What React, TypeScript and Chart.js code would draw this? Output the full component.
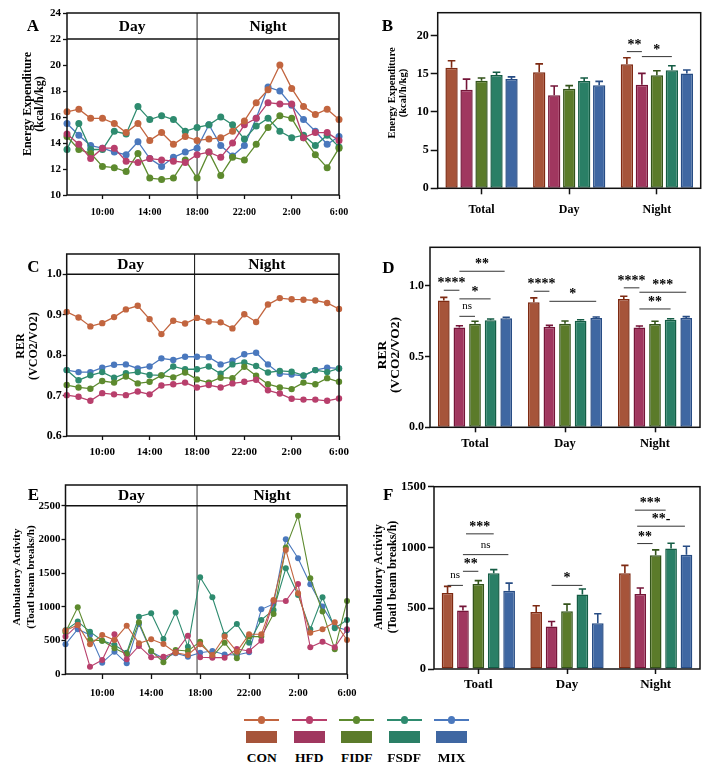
import React, { useEffect, useRef } from "react";
import { Chart, registerables } from "chart.js";

Chart.register(...registerables);

const SERIF = '"Liberation Serif", "Times New Roman", serif';

const GROUPS = ["CON", "HFD", "FIDF", "FSDF", "MIX"];
const LINE_COLORS = ["#C2653F", "#B83F6C", "#5D8A2E", "#2E8B6F", "#4A78BD"];
const BAR_FILL = ["#A6543A", "#A0375F", "#5B7B2A", "#2A7F66", "#3F67A2"];
const BAR_EDGE = ["#7E2A12", "#741538", "#33531A", "#145C44", "#274C84"];

const HOURS = [7, 8, 9, 10, 11, 12, 13, 14, 15, 16, 17, 18, 19, 20, 21, 22, 23, 24, 25, 26, 27, 28, 29, 30];
const HOUR_TICKS = [10, 14, 18, 22, 26, 30];
const PERIODS = ["Total", "Day", "Night"];
const PERIODS_F = ["Toatl", "Day", "Night"];

// Panel A: energy expenditure (kcal/h/kg)
const EE_CON = [16.4, 16.6, 15.9, 15.9, 15.5, 14.8, 15.5, 14.2, 14.8, 13.9, 14.5, 14.2, 14.3, 14.4, 14.9, 15.7, 17.1, 18.1, 20.0, 18.2, 16.8, 16.2, 16.6, 15.8];
const EE_HFD = [14.7, 13.9, 12.8, 13.6, 13.6, 12.6, 12.5, 12.8, 12.7, 12.6, 12.5, 13.1, 13.3, 12.9, 14.0, 15.4, 15.9, 17.1, 17.0, 17.0, 14.4, 14.8, 14.8, 14.2];
const EE_FIDF = [14.5, 13.5, 13.2, 12.2, 12.1, 11.8, 13.2, 11.3, 11.2, 11.3, 12.7, 11.3, 13.3, 11.5, 12.9, 12.7, 13.9, 15.2, 16.1, 15.9, 14.4, 13.1, 12.1, 13.6];
const EE_FSDF = [13.5, 15.5, 13.5, 13.5, 14.9, 14.7, 16.8, 15.8, 16.1, 15.8, 14.9, 15.2, 15.4, 16.0, 15.4, 14.3, 15.3, 15.9, 14.9, 14.4, 14.6, 13.8, 14.6, 13.7];
const EE_MIX = [15.5, 14.6, 13.8, 13.6, 13.3, 13.1, 14.1, 12.8, 12.2, 12.9, 13.3, 13.6, 15.4, 13.8, 13.0, 13.8, 15.9, 18.3, 18.0, 16.9, 15.8, 14.9, 13.9, 14.5];
const EE_TICKS = [10, 12, 14, 16, 18, 20, 22, 24];

// Panel C: RER
const RER_CON = [0.907, 0.893, 0.871, 0.879, 0.894, 0.913, 0.922, 0.889, 0.852, 0.885, 0.878, 0.892, 0.883, 0.881, 0.866, 0.901, 0.882, 0.925, 0.941, 0.938, 0.937, 0.935, 0.929, 0.914];
const RER_HFD = [0.701, 0.697, 0.687, 0.706, 0.703, 0.701, 0.71, 0.703, 0.725, 0.728, 0.732, 0.72, 0.726, 0.72, 0.73, 0.734, 0.739, 0.713, 0.705, 0.692, 0.69, 0.69, 0.687, 0.693];
const RER_FIDF = [0.726, 0.72, 0.717, 0.736, 0.732, 0.747, 0.73, 0.734, 0.75, 0.745, 0.757, 0.74, 0.732, 0.744, 0.743, 0.771, 0.749, 0.728, 0.72, 0.716, 0.732, 0.728, 0.743, 0.734];
const RER_FSDF = [0.763, 0.738, 0.75, 0.758, 0.744, 0.755, 0.758, 0.751, 0.75, 0.772, 0.765, 0.765, 0.772, 0.754, 0.777, 0.782, 0.773, 0.757, 0.761, 0.759, 0.75, 0.763, 0.758, 0.767];
const RER_MIX = [0.763, 0.758, 0.758, 0.769, 0.776, 0.777, 0.767, 0.772, 0.792, 0.788, 0.796, 0.796, 0.795, 0.777, 0.786, 0.802, 0.806, 0.777, 0.754, 0.752, 0.749, 0.763, 0.769, 0.767];
const RER_TICKS = [0.6, 0.7, 0.8, 0.9, 1.0];

// Panel E: ambulatory activity
const AMB_CON = [645, 729, 441, 580, 506, 719, 456, 516, 446, 317, 283, 441, 283, 556, 332, 590, 590, 1101, 1845, 1200, 615, 665, 769, 506];
const AMB_HFD = [556, 729, 109, 208, 590, 218, 417, 248, 258, 322, 570, 248, 243, 243, 372, 342, 496, 1086, 1086, 1339, 397, 481, 397, 665];
const AMB_FIDF = [620, 992, 506, 496, 382, 293, 769, 342, 174, 357, 342, 481, 258, 466, 233, 556, 556, 893, 1880, 2351, 1424, 928, 367, 1086];
const AMB_FSDF = [650, 779, 630, 496, 431, 317, 853, 903, 521, 913, 407, 1438, 1141, 580, 744, 466, 804, 952, 1572, 1176, 665, 1141, 680, 804];
const AMB_MIX = [441, 665, 580, 169, 332, 159, 744, 332, 233, 308, 258, 317, 342, 290, 283, 322, 962, 1042, 2004, 1721, 1334, 1002, 704, 650];
const AMB_TICKS = [0, 500, 1000, 1500, 2000, 2500];

// Panel B: mean energy expenditure per period (rows: CON, HFD, FIDF, FSDF, MIX)
const EE_MEAN = [
  [15.8, 15.2, 16.25],
  [12.9, 12.2, 13.55],
  [14.1, 13.05, 14.8],
  [14.85, 14.05, 15.45],
  [14.3, 13.5, 15.05],
];
const EE_SEM = [
  [0.9, 1.1, 0.85],
  [1.4, 1.2, 1.5],
  [0.35, 0.4, 0.6],
  [0.35, 0.4, 0.6],
  [0.3, 0.5, 0.45],
];
const EE_BAR_TICKS = [0, 5, 10, 15, 20];
const EE_SIG = [
  { g: 2, a: 0, b: 1, y: 17.9, t: "**" },
  { g: 2, a: 1, b: 3, y: 17.25, t: "*" },
];

// Panel D: mean RER per period
const RER_MEAN = [
  [0.894, 0.882, 0.906],
  [0.705, 0.708, 0.705],
  [0.731, 0.731, 0.729],
  [0.755, 0.752, 0.759],
  [0.769, 0.771, 0.771],
];
const RER_SEM = [
  [0.023, 0.031, 0.019],
  [0.012, 0.011, 0.01],
  [0.017, 0.019, 0.019],
  [0.009, 0.007, 0.007],
  [0.007, 0.007, 0.01],
];
const RER_BAR_TICKS = [0, 0.5, 1.0];
const RER_SIG = [
  { g: 0, a: 0, b: 1, y: 0.967, t: "****" },
  { g: 0, a: 1, b: 3.9, y: 1.101, t: "**" },
  { g: 0, a: 1, b: 3, y: 0.906, t: "*" },
  { g: 0, a: 1, b: 2, y: 0.783, t: "ns" },
  { g: 1, a: 0, b: 1, y: 0.96, t: "****" },
  { g: 1, a: 1, b: 4, y: 0.889, t: "*" },
  { g: 2, a: 0, b: 1, y: 0.984, t: "****" },
  { g: 2, a: 1, b: 4, y: 0.953, t: "***" },
  { g: 2, a: 1, b: 3, y: 0.835, t: "**" },
];

// Panel F: mean ambulatory activity per period
const AMB_MEAN = [
  [625, 468, 787],
  [482, 350, 617],
  [699, 476, 936],
  [787, 614, 991],
  [644, 377, 941],
];
const AMB_SEM = [
  [55, 52, 66],
  [33, 41, 49],
  [28, 58, 44],
  [31, 44, 44],
  [63, 77, 69],
];
const AMB_BAR_TICKS = [0, 500, 1000, 1500];
const AMB_SIG = [
  { g: 0, a: 0, b: 1, y: 688, t: "ns" },
  { g: 0, a: 1, b: 2, y: 804, t: "**" },
  { g: 0, a: 1, b: 3.95, y: 941, t: "ns" },
  { g: 0, a: 1.2, b: 3, y: 1112, t: "***" },
  { g: 1, a: 1, b: 3, y: 688, t: "*" },
  { g: 2, a: 0.8, b: 1.8, y: 1032, t: "**" },
  { g: 2, a: 0.8, b: 3.9, y: 1175, t: "**-" },
  { g: 2, a: 0.65, b: 2.65, y: 1307, t: "***" },
];

const framePlugin = {
  id: "frame",
  afterDatasetsDraw(chart: any) {
    const { ctx, chartArea: a } = chart;
    ctx.save();
    ctx.strokeStyle = "#111";
    ctx.lineWidth = 1.5;
    ctx.strokeRect(a.left, a.top, a.right - a.left, a.bottom - a.top);
    ctx.restore();
  },
};

function dayNightPlugin(split: number, header: number, dividerColor: string, dividerWidth: number) {
  return {
    id: "dayNight",
    beforeDatasetsDraw(chart: any) {
      const { ctx, chartArea: a, scales } = chart;
      const sx = scales.x.getPixelForValue(split);
      ctx.save();
      ctx.strokeStyle = dividerColor;
      ctx.lineWidth = dividerWidth;
      ctx.beginPath();
      ctx.moveTo(sx, a.top);
      ctx.lineTo(sx, a.bottom);
      ctx.stroke();
      ctx.restore();
    },
    afterDatasetsDraw(chart: any) {
      const { ctx, chartArea: a, scales } = chart;
      const sx = scales.x.getPixelForValue(split);
      const hy = scales.y.getPixelForValue(header);
      ctx.save();
      ctx.strokeStyle = "#111";
      ctx.lineWidth = 1.5;
      ctx.beginPath();
      ctx.moveTo(a.left, hy);
      ctx.lineTo(a.right, hy);
      ctx.stroke();
      ctx.fillStyle = "#000";
      ctx.font = `bold 15.5px ${SERIF}`;
      ctx.textAlign = "center";
      ctx.textBaseline = "middle";
      const cy = (a.top + hy) / 2 + 1;
      ctx.fillText("Day", (a.left + sx) / 2, cy);
      ctx.fillText("Night", (sx + a.right) / 2, cy);
      ctx.restore();
    },
  };
}

function errorPlugin(sems: number[][]) {
  return {
    id: "errorBars",
    afterDatasetsDraw(chart: any) {
      const { ctx, scales } = chart;
      ctx.save();
      chart.data.datasets.forEach((ds: any, i: number) => {
        const meta = chart.getDatasetMeta(i);
        meta.data.forEach((el: any, j: number) => {
          const top = scales.y.getPixelForValue(ds.data[j] + sems[i][j]);
          const w = el.width * 0.62;
          ctx.strokeStyle = BAR_EDGE[i];
          ctx.lineWidth = 1.6;
          ctx.beginPath();
          ctx.moveTo(el.x, el.y);
          ctx.lineTo(el.x, top);
          ctx.moveTo(el.x - w / 2, top);
          ctx.lineTo(el.x + w / 2, top);
          ctx.stroke();
        });
      });
      ctx.restore();
    },
  };
}

function sigPlugin(sigs: { g: number; a: number; b: number; y: number; t: string }[]) {
  return {
    id: "sig",
    afterDatasetsDraw(chart: any) {
      const { ctx, scales } = chart;
      const n = chart.data.datasets.length;
      const barX = (g: number, idx: number) => {
        const i0 = Math.floor(idx);
        const i1 = Math.min(i0 + 1, n - 1);
        const f = idx - i0;
        const x0 = chart.getDatasetMeta(i0).data[g].x;
        const x1 = chart.getDatasetMeta(i1).data[g].x;
        return x0 + (x1 - x0) * f;
      };
      ctx.save();
      sigs.forEach((s) => {
        const x1 = barX(s.g, s.a);
        const x2 = barX(s.g, s.b);
        const py = scales.y.getPixelForValue(s.y);
        ctx.strokeStyle = "#333";
        ctx.lineWidth = 1;
        ctx.beginPath();
        ctx.moveTo(x1, py);
        ctx.lineTo(x2, py);
        ctx.stroke();
        const ns = s.t === "ns";
        ctx.font = ns ? `11px ${SERIF}` : `bold 14px ${SERIF}`;
        ctx.fillStyle = "#000";
        ctx.textAlign = "center";
        ctx.textBaseline = "alphabetic";
        ctx.fillText(s.t, (x1 + x2) / 2, py - (ns ? 7 : 3));
      });
      ctx.restore();
    },
  };
}

type Area = { L: number; T: number; R: number; B: number };

function tickFont(size: number) {
  return { family: SERIF, size, weight: "bold" as const };
}

function lineConfig(o: {
  W: number; H: number; area: Area; series: number[][]; yMin: number; yMax: number; yTicks: number[];
  yFmt: (v: number) => string; header: number; split: number; pointR: number; lineW: number;
  yFont: number; xFont: number; xPad: number; xTickLen: number; yTickLen: number; yPad: number;
  dividerColor: string; dividerWidth: number;
}) {
  return {
    type: "line",
    data: {
      datasets: o.series.map((vals, i) => ({
        label: GROUPS[i],
        data: HOURS.map((h, k) => ({ x: h, y: vals[k] })),
        borderColor: LINE_COLORS[i],
        backgroundColor: LINE_COLORS[i],
        pointBackgroundColor: LINE_COLORS[i],
        pointBorderColor: LINE_COLORS[i],
        pointBorderWidth: 0,
        pointRadius: o.pointR,
        borderWidth: o.lineW,
        tension: 0,
        clip: false,
      })),
    },
    options: {
      responsive: false,
      animation: false,
      events: [],
      layout: { padding: { left: 0, top: o.area.T, right: o.W - o.area.R, bottom: 0 } },
      plugins: { legend: { display: false }, tooltip: { enabled: false }, title: { display: false } },
      scales: {
        x: {
          type: "linear",
          min: HOURS[0],
          max: HOURS[HOURS.length - 1],
          afterBuildTicks: (ax: any) => {
            ax.ticks = HOUR_TICKS.map((v) => ({ value: v }));
          },
          afterFit: (ax: any) => {
            ax.height = o.H - o.area.B;
          },
          ticks: {
            autoSkip: false,
            maxRotation: 0,
            padding: o.xPad,
            color: "#000",
            font: tickFont(o.xFont),
            callback: (v: number) => `${v % 24}:00`,
          },
          grid: { drawOnChartArea: false, drawTicks: true, tickLength: o.xTickLen, tickColor: "#111", tickWidth: 1.3 },
          border: { display: false },
        },
        y: {
          type: "linear",
          min: o.yMin,
          max: o.yMax,
          afterBuildTicks: (ax: any) => {
            ax.ticks = o.yTicks.map((v) => ({ value: v }));
          },
          afterFit: (ax: any) => {
            ax.width = o.area.L;
          },
          ticks: { padding: o.yPad, color: "#000", font: tickFont(o.yFont), callback: (v: number) => o.yFmt(v) },
          grid: { drawOnChartArea: false, drawTicks: true, tickLength: o.yTickLen, tickColor: "#111", tickWidth: 1.3 },
          border: { display: false },
        },
      },
    },
    plugins: [dayNightPlugin(o.split, o.header, o.dividerColor, o.dividerWidth), framePlugin],
  };
}

function barConfig(o: {
  W: number; H: number; area: Area; labels: string[]; means: number[][]; sems: number[][];
  sigs: { g: number; a: number; b: number; y: number; t: string }[]; yMax: number; yTicks: number[];
  yFmt: (v: number) => string; catPct: number; barPct: number; yFont: number; xFont: number;
  xPad: number; xTickLen: number; yTickLen: number; yPad: number;
}) {
  return {
    type: "bar",
    data: {
      labels: o.labels,
      datasets: o.means.map((m, i) => ({
        label: GROUPS[i],
        data: m,
        backgroundColor: BAR_FILL[i],
        borderColor: BAR_EDGE[i],
        borderWidth: 1.5,
        borderSkipped: false,
        categoryPercentage: o.catPct,
        barPercentage: o.barPct,
      })),
    },
    options: {
      responsive: false,
      animation: false,
      events: [],
      layout: { padding: { left: 0, top: o.area.T, right: o.W - o.area.R, bottom: 0 } },
      plugins: { legend: { display: false }, tooltip: { enabled: false }, title: { display: false } },
      scales: {
        x: {
          afterFit: (ax: any) => {
            ax.height = o.H - o.area.B;
          },
          ticks: { padding: o.xPad, color: "#000", font: tickFont(o.xFont), maxRotation: 0 },
          grid: { offset: false, drawOnChartArea: false, drawTicks: true, tickLength: o.xTickLen, tickColor: "#111", tickWidth: 1.5 },
          border: { display: false },
        },
        y: {
          type: "linear",
          min: 0,
          max: o.yMax,
          afterBuildTicks: (ax: any) => {
            ax.ticks = o.yTicks.map((v) => ({ value: v }));
          },
          afterFit: (ax: any) => {
            ax.width = o.area.L;
          },
          ticks: { padding: o.yPad, color: "#000", font: tickFont(o.yFont), callback: (v: number) => o.yFmt(v) },
          grid: { drawOnChartArea: false, drawTicks: true, tickLength: o.yTickLen, tickColor: "#111", tickWidth: 1.5 },
          border: { display: false },
        },
      },
    },
    plugins: [framePlugin, errorPlugin(o.sems), sigPlugin(o.sigs)],
  };
}

function ChartCanvas({ left, top, width, height, config }: any) {
  const ref = useRef<HTMLCanvasElement>(null);
  useEffect(() => {
    const chart = new Chart(ref.current as HTMLCanvasElement, config);
    return () => chart.destroy();
  }, []);
  return (
    <canvas
      ref={ref}
      width={width}
      height={height}
      style={{ position: "absolute", left, top, width, height }}
    />
  );
}

function VText({ x, y, size, text }: { x: number; y: number; size: number; text: string }) {
  return (
    <div
      style={{
        position: "absolute",
        left: x,
        top: y,
        transform: "translate(-50%, -50%) rotate(-90deg)",
        font: `bold ${size}px ${SERIF}`,
        lineHeight: 1,
        whiteSpace: "nowrap",
        color: "#000",
      }}
    >
      {text}
    </div>
  );
}

function Label({ x, y, size, text }: { x: number; y: number; size: number; text: string }) {
  return (
    <div
      style={{
        position: "absolute",
        left: x,
        top: y,
        transform: "translate(-50%, -50%)",
        font: `bold ${size}px ${SERIF}`,
        lineHeight: 1,
        whiteSpace: "nowrap",
        color: "#000",
      }}
    >
      {text}
    </div>
  );
}

function Legend() {
  return (
    <>
      {GROUPS.map((g, i) => {
        const cx = 261.7 + i * 47.5;
        return (
          <React.Fragment key={g}>
            <div style={{ position: "absolute", left: cx - 17.5, top: 719.3, width: 35, height: 1.6, background: LINE_COLORS[i] }} />
            <div style={{ position: "absolute", left: cx - 3.7, top: 716.4, width: 7.4, height: 7.4, borderRadius: "50%", background: LINE_COLORS[i] }} />
            <div style={{ position: "absolute", left: cx - 15.3, top: 730.7, width: 30.7, height: 12.7, background: BAR_FILL[i] }} />
            <Label x={cx} y={758.3} size={13.5} text={g} />
          </React.Fragment>
        );
      })}
    </>
  );
}

const fmtInt = (v: number) => String(v);
const fmt1 = (v: number) => v.toFixed(1);

export default function App() {
  const cfgA = lineConfig({
    W: 360, H: 228, area: { L: 67, T: 13, R: 339, B: 195 },
    series: [EE_CON, EE_HFD, EE_FIDF, EE_FSDF, EE_MIX],
    yMin: 10, yMax: 24, yTicks: EE_TICKS, yFmt: fmtInt, header: 22, split: 18,
    pointR: 3.5, lineW: 1.3, yFont: 11, xFont: 10, xPad: 7, xTickLen: 4, yTickLen: 4, yPad: 2,
    dividerColor: "#333", dividerWidth: 1.1,
  });
  const cfgB = barConfig({
    W: 355, H: 228, area: { L: 77.7, T: 12.7, R: 340.7, B: 188.3 },
    labels: PERIODS, means: EE_MEAN, sems: EE_SEM, sigs: EE_SIG, yMax: 23, yTicks: EE_BAR_TICKS, yFmt: fmtInt,
    catPct: 0.855, barPct: 0.82, yFont: 12, xFont: 12, xPad: 8, xTickLen: 6, yTickLen: 7, yPad: 2,
  });
  const cfgC = lineConfig({
    W: 360, H: 228, area: { L: 66.7, T: 18, R: 339, B: 200 },
    series: [RER_CON, RER_HFD, RER_FIDF, RER_FSDF, RER_MIX],
    yMin: 0.6, yMax: 1.05, yTicks: RER_TICKS, yFmt: fmt1, header: 1.0, split: 17.8,
    pointR: 3.2, lineW: 1.3, yFont: 12, xFont: 11, xPad: 6, xTickLen: 4, yTickLen: 4, yPad: 1,
    dividerColor: "#222", dividerWidth: 1.1,
  });
  const cfgD = barConfig({
    W: 355, H: 228, area: { L: 70, T: 11.3, R: 340, B: 191.3 },
    labels: PERIODS, means: RER_MEAN, sems: RER_SEM, sigs: RER_SIG, yMax: 1.27, yTicks: RER_BAR_TICKS, yFmt: fmt1,
    catPct: 0.867, barPct: 0.75, yFont: 12, xFont: 12.5, xPad: 4, xTickLen: 5, yTickLen: 5, yPad: 1,
  });
  const cfgE = lineConfig({
    W: 370, H: 240, area: { L: 65.5, T: 19, R: 347, B: 208 },
    series: [AMB_CON, AMB_HFD, AMB_FIDF, AMB_FSDF, AMB_MIX],
    yMin: 0, yMax: 2810, yTicks: AMB_TICKS, yFmt: fmtInt, header: 2500, split: 17.75,
    pointR: 3, lineW: 1.1, yFont: 11, xFont: 10.5, xPad: 8, xTickLen: 5, yTickLen: 4, yPad: 1,
    dividerColor: "#777", dividerWidth: 1.5,
  });
  const cfgF = barConfig({
    W: 355, H: 240, area: { L: 74, T: 20.7, R: 340, B: 203 },
    labels: PERIODS_F, means: AMB_MEAN, sems: AMB_SEM, sigs: AMB_SIG, yMax: 1500, yTicks: AMB_BAR_TICKS, yFmt: fmtInt,
    catPct: 0.868, barPct: 0.76, yFont: 12.5, xFont: 13, xPad: 3, xTickLen: 5, yTickLen: 6, yPad: 2,
  });

  return (
    <div style={{ position: "absolute", left: 0, top: 0, width: 715, height: 781, background: "#fff", overflow: "hidden" }}>
      <ChartCanvas left={0} top={0} width={360} height={228} config={cfgA} />
      <ChartCanvas left={360} top={0} width={355} height={228} config={cfgB} />
      <ChartCanvas left={0} top={236} width={360} height={228} config={cfgC} />
      <ChartCanvas left={360} top={236} width={355} height={228} config={cfgD} />
      <ChartCanvas left={0} top={466} width={370} height={240} config={cfgE} />
      <ChartCanvas left={360} top={466} width={355} height={240} config={cfgF} />

      <Label x={32.8} y={25} size={17} text="A" />
      <Label x={387.5} y={25} size={17} text="B" />
      <Label x={33.3} y={266} size={17} text="C" />
      <Label x={388.5} y={266.7} size={17} text="D" />
      <Label x={33.3} y={493.8} size={17} text="E" />
      <Label x={388.3} y={493.8} size={17} text="F" />

      <VText x={26.7} y={104} size={12} text="Energy Expenditure" />
      <VText x={39.3} y={104} size={12} text="(kcal/h/kg)" />
      <VText x={391.7} y={93} size={10.5} text="Energy Expenditure" />
      <VText x={403.3} y={93} size={10.5} text="(kcal/h/kg)" />
      <VText x={20} y={346} size={12} text="RER" />
      <VText x={33.3} y={346} size={12} text="(VCO2/VO2)" />
      <VText x={381.7} y={355} size={13.5} text="RER" />
      <VText x={395} y={355} size={13.5} text="(VCO2/VO2)" />
      <VText x={15.5} y={576.5} size={11} text="Ambulatory Activity" />
      <VText x={29.5} y={576.5} size={11} text="(Toatl beam breaks/h)" />
      <VText x={378.3} y={577} size={12} text="Ambulatory Activity" />
      <VText x={391.7} y={577} size={12} text="(Toatl beam breaks/h)" />

      <Legend />
    </div>
  );
}
